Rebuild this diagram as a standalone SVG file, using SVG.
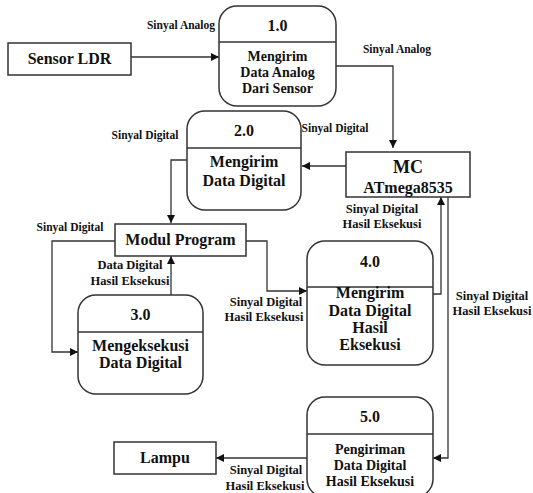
<svg xmlns="http://www.w3.org/2000/svg" width="533" height="493" viewBox="0 0 533 493">
  <defs>
    <marker id="arrow" viewBox="0 0 10 10" refX="10" refY="5" markerWidth="8" markerHeight="8" markerUnits="userSpaceOnUse" orient="auto">
      <path d="M0,0 L10,5 L0,10 z" fill="#111"/>
    </marker>
  </defs>
  <style>
    .box { fill: #fff; stroke: #333; stroke-width: 1.5; }
    .proc { fill: #fff; stroke: #333; stroke-width: 1.5; }
    .div { stroke: #333; stroke-width: 1.3; }
    .flow { fill: none; stroke: #333; stroke-width: 1.3; }
    text { font-family: "Liberation Serif", "Times New Roman", serif; font-weight: bold; fill: #111; text-anchor: middle; }
    .ent { font-size: 16px; }
    .num { font-size: 16px; }
    .pt { font-size: 16px; }
    .pts { font-size: 14px; }
    .lbl { font-size: 11.5px; }
    .lbl2 { font-size: 12.5px; }
  </style>

  <!-- data flows -->
  <g id="connectors">
    <path class="flow" d="M131,57 H219" marker-end="url(#arrow)"/>
    <path class="flow" d="M336,66 H393 V148" marker-end="url(#arrow)"/>
    <path class="flow" d="M346,166 H302" marker-end="url(#arrow)"/>
    <path class="flow" d="M187,160 H171 V223" marker-end="url(#arrow)"/>
    <path class="flow" d="M115,241 H52 V352 H78" marker-end="url(#arrow)"/>
    <path class="flow" d="M246,241 H267 V291 H307" marker-end="url(#arrow)"/>
    <path class="flow" d="M171,295 V256" marker-end="url(#arrow)"/>
    <path class="flow" d="M433,294 H441 V197" marker-end="url(#arrow)"/>
    <path class="flow" d="M448,197 V458 H433" marker-end="url(#arrow)"/>
    <path class="flow" d="M307,458 H216" marker-end="url(#arrow)"/>
  </g>

  <!-- flow labels -->
  <g id="labels">
    <text class="lbl" x="181" y="29">Sinyal Analog</text>
    <text class="lbl" x="397" y="53">Sinyal Analog</text>
    <text class="lbl" x="145" y="139">Sinyal Digital</text>
    <text class="lbl" x="335" y="132">Sinyal  Digital</text>
    <text class="lbl" x="70" y="231">Sinyal Digital</text>
    <text class="lbl2" x="130" y="269">Data Digital</text>
    <text class="lbl2" x="130" y="285">Hasil Eksekusi</text>
    <text class="lbl2" x="382" y="213">Sinyal Digital</text>
    <text class="lbl2" x="382" y="228">Hasil Eksekusi</text>
    <text class="lbl2" x="266" y="306">Sinyal Digital</text>
    <text class="lbl2" x="264" y="321">Hasil Eksekusi</text>
    <text class="lbl2" x="492" y="300">Sinyal Digital</text>
    <text class="lbl2" x="492" y="315">Hasil Eksekusi</text>
    <text class="lbl2" x="266" y="474">Sinyal Digital</text>
    <text class="lbl2" x="265" y="490">Hasil Eksekusi</text>
  </g>

  <g id="sensor-ldr">
    <rect class="box" x="8" y="43" width="123" height="32"/>
    <text class="ent" x="69.5" y="64">Sensor LDR</text>
  </g>

  <g id="p1">
    <rect class="proc" x="219" y="6" width="117" height="100" rx="18"/>
    <line class="div" x1="219" y1="42" x2="336" y2="42"/>
    <text class="num" x="277.5" y="31">1.0</text>
    <text class="pts" x="277.5" y="61">Mengirim</text>
    <text class="pts" x="277.5" y="77">Data Analog</text>
    <text class="pts" x="277.5" y="93">Dari Sensor</text>
  </g>

  <g id="mc">
    <rect class="box" x="346" y="152" width="124" height="45"/>
    <text x="408" y="173" style="font-size:18px">MC</text>
    <text x="408" y="193" style="font-size:16px">ATmega8535</text>
  </g>

  <g id="p2">
    <rect class="proc" x="187" y="111" width="114" height="99" rx="18"/>
    <line class="div" x1="187" y1="148" x2="301" y2="148"/>
    <text class="num" x="244" y="136">2.0</text>
    <text class="pt" x="244" y="167">Mengirim</text>
    <text class="pt" x="244" y="186">Data Digital</text>
  </g>

  <g id="modul-program">
    <rect class="box" x="115" y="224" width="131" height="32"/>
    <text class="ent" x="180.5" y="245">Modul Program</text>
  </g>

  <g id="p3">
    <rect class="proc" x="78" y="295" width="125" height="99" rx="18"/>
    <line class="div" x1="78" y1="332" x2="203" y2="332"/>
    <text class="num" x="140.5" y="320">3.0</text>
    <text class="pt" x="140.5" y="351">Mengeksekusi</text>
    <text class="pt" x="140.5" y="368">Data Digital</text>
  </g>

  <g id="p4">
    <rect class="proc" x="307" y="241" width="126" height="124" rx="18"/>
    <line class="div" x1="307" y1="287" x2="433" y2="287"/>
    <text class="num" x="370" y="267">4.0</text>
    <text class="pt" x="370" y="298">Mengirim</text>
    <text class="pt" x="370" y="316">Data Digital</text>
    <text class="pt" x="370" y="333">Hasil</text>
    <text class="pt" x="370" y="350">Eksekusi</text>
  </g>

  <g id="p5">
    <rect class="proc" x="307" y="397" width="126" height="100" rx="18"/>
    <line class="div" x1="307" y1="434" x2="433" y2="434"/>
    <text class="num" x="370" y="422">5.0</text>
    <text class="pts" x="370" y="454">Pengiriman</text>
    <text class="pts" x="370" y="470">Data Digital</text>
    <text class="pts" x="370" y="486">Hasil Eksekusi</text>
  </g>

  <g id="lampu">
    <rect class="box" x="114" y="442" width="102" height="32"/>
    <text class="ent" x="165" y="463">Lampu</text>
  </g>
</svg>
